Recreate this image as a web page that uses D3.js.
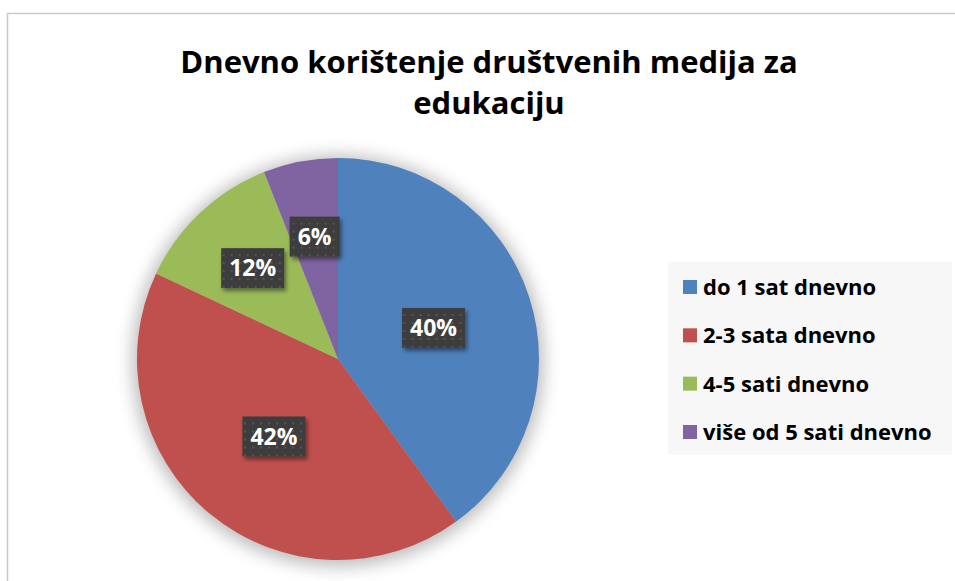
<!DOCTYPE html>
<html>
<head>
<meta charset="utf-8">
<script src="https://cdn.jsdelivr.net/npm/d3@7"></script>
<style>
body { margin: 0; background: #fff; }
text { font-family: "Open Sans", sans-serif; font-weight: bold; }
</style>
</head>
<body>
<svg id="chart" width="955" height="581"></svg>
<script>
// data
var categories = ["do 1 sat dnevno", "2-3 sata dnevno", "4-5 sati dnevno", "više od 5 sati dnevno"];
var values = [40, 42, 12, 6];
var colors = ["#4f81bd", "#c0504d", "#9bbb59", "#8064a2"];
var titleLines = ["Dnevno korištenje društvenih medija za", "edukaciju"];

var width = 955, height = 581;
var svg = d3.select("#chart");

var defs = svg.append("defs");

var blur = defs.append("filter").attr("id", "pieShadow")
	.attr("x", "-30%").attr("y", "-30%").attr("width", "160%").attr("height", "160%");
blur.append("feGaussianBlur").attr("stdDeviation", 9);

var lblShadow = defs.append("filter").attr("id", "lblShadow")
	.attr("x", "-30%").attr("y", "-30%").attr("width", "160%").attr("height", "160%");
lblShadow.append("feDropShadow").attr("dx", 2).attr("dy", 3).attr("stdDeviation", 2)
	.attr("flood-color", "#000").attr("flood-opacity", 0.45);

var pat = defs.append("pattern").attr("id", "dots")
	.attr("width", 8).attr("height", 8).attr("patternUnits", "userSpaceOnUse");
pat.append("rect").attr("width", 8).attr("height", 8).attr("fill", "#3d3d3d");
pat.append("rect").attr("x", 2).attr("y", 2).attr("width", 2).attr("height", 2).attr("fill", "#555");

// chart frame
svg.append("rect")
	.attr("x", 7.5).attr("y", 13.5)
	.attr("width", 1000).attr("height", 1000)
	.attr("fill", "none")
	.attr("stroke", "#c9c9c9")
	.attr("stroke-width", 1.5);

// title
svg.append("g").selectAll("text")
	.data(titleLines)
	.enter().append("text")
	.attr("x", 489)
	.attr("y", function(d, i) { return 73 + i * 41; })
	.attr("text-anchor", "middle")
	.attr("font-size", "31px")
	.attr("fill", "#000")
	.text(function(d) { return d; });

var cx = 338, cy = 359, radius = 201;

var pie = d3.pie().sort(null).value(function(d) { return d; });
var arcs = pie(values);
var arc = d3.arc().innerRadius(0).outerRadius(radius);

var g = svg.append("g").attr("transform", "translate(" + cx + "," + cy + ")");

g.append("circle")
	.attr("r", radius + 4)
	.attr("cy", 2)
	.attr("fill", "#000")
	.attr("opacity", 0.28)
	.attr("filter", "url(#pieShadow)");

g.selectAll("path.slice")
	.data(arcs)
	.enter().append("path")
	.attr("class", "slice")
	.attr("d", arc)
	.attr("fill", function(d, i) { return colors[i]; });

// data labels; small slices are pushed a little further out
var lblArcBig = d3.arc().innerRadius(radius * 0.5).outerRadius(radius * 0.5);
var lblArcSmall = d3.arc().innerRadius(radius * 0.62).outerRadius(radius * 0.62);

var lbl = g.selectAll("g.lbl")
	.data(arcs)
	.enter().append("g")
	.attr("class", "lbl")
	.attr("transform", function(d) {
		var c = (d.value < 15 ? lblArcSmall : lblArcBig).centroid(d);
		return "translate(" + c + ")";
	});

lbl.append("rect")
	.attr("x", function(d) { return d.value < 10 ? -25 : -31.5; })
	.attr("y", -20)
	.attr("width", function(d) { return d.value < 10 ? 50 : 63; })
	.attr("height", 40)
	.attr("fill", "url(#dots)")
	.attr("filter", "url(#lblShadow)");

lbl.append("text")
	.attr("text-anchor", "middle")
	.attr("dy", "0.36em")
	.attr("font-size", "23px")
	.attr("fill", "#fff")
	.text(function(d) { return d.value + "%"; });

// legend
var legend = svg.append("g").attr("transform", "translate(668,262)");
legend.append("rect")
	.attr("width", 284).attr("height", 193)
	.attr("fill", "#f7f7f7");

var ly = d3.scalePoint().domain(categories).range([25, 170]);

var item = legend.selectAll("g.item")
	.data(categories)
	.enter().append("g")
	.attr("class", "item")
	.attr("transform", function(d) { return "translate(0," + ly(d) + ")"; });

item.append("rect")
	.attr("x", 15).attr("y", -7)
	.attr("width", 14).attr("height", 14)
	.attr("fill", function(d, i) { return colors[i]; });

item.append("text")
	.attr("x", 35)
	.attr("dy", "0.36em")
	.attr("font-size", "22px")
	.attr("fill", "#000")
	.text(function(d) { return d; });
</script>
</body>
</html>
